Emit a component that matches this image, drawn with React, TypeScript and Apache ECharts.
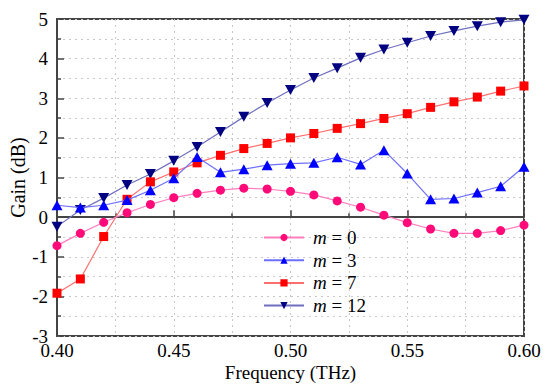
import React, { useEffect, useRef } from "react";
import * as echarts from "echarts";

const freqs = [0.40, 0.41, 0.42, 0.43, 0.44, 0.45, 0.46, 0.47, 0.48, 0.49, 0.50, 0.51, 0.52, 0.53, 0.54, 0.55, 0.56, 0.57, 0.58, 0.59, 0.60];
const m0 = [-0.72, -0.41, -0.13, 0.11, 0.32, 0.49, 0.60, 0.68, 0.73, 0.71, 0.65, 0.56, 0.41, 0.25, 0.05, -0.14, -0.30, -0.41, -0.41, -0.34, -0.20];
const m3 = [0.30, 0.24, 0.30, 0.43, 0.68, 0.98, 1.52, 1.13, 1.21, 1.31, 1.35, 1.37, 1.51, 1.33, 1.69, 1.10, 0.45, 0.47, 0.62, 0.78, 1.27];
const m7 = [-1.92, -1.56, -0.49, 0.45, 0.89, 1.14, 1.37, 1.56, 1.73, 1.86, 2.00, 2.11, 2.24, 2.36, 2.49, 2.61, 2.77, 2.91, 3.03, 3.18, 3.31];
const m12 = [-0.24, 0.18, 0.48, 0.81, 1.09, 1.42, 1.77, 2.15, 2.53, 2.88, 3.21, 3.51, 3.76, 4.02, 4.23, 4.40, 4.57, 4.70, 4.82, 4.92, 4.98];

const seriesNames = ["m = 0", "m = 3", "m = 7", "m = 12"];
const seriesData = [m0, m3, m7, m12];
const markerColors = ["#ff0a78", "#0000ff", "#ff0000", "#000080"];
const lineColors = ["#ff7fbf", "#6f6fff", "#ff6f6f", "#6f6fbf"];
const symbols = ["circle", "triangle", "rect", "path://M0,0 L10,0 L5,9 Z"];

const FONT = "Liberation Serif";

export default function App() {
  const ref = useRef<HTMLDivElement>(null);
  useEffect(() => {
    if (!ref.current) return;
    const chart = echarts.init(ref.current, null, { renderer: "svg" });
    const gridLine = { show: true, lineStyle: { color: "#c8c8c8", type: [2, 4], width: 1 } };
    chart.setOption({
      animation: false,
      backgroundColor: "#fff",
      textStyle: { fontFamily: FONT },
      grid: { left: 54, right: 26, top: 19, bottom: 55, show: true, borderColor: "#444", borderWidth: 2 },
      xAxis: {
        type: "value",
        min: 0.4,
        max: 0.6,
        interval: 0.05,
        name: "Frequency (THz)",
        nameLocation: "middle",
        nameGap: 28,
        nameMoveOverlap: false,
        nameTextStyle: { fontFamily: FONT, fontSize: 19, color: "#000", lineHeight: 16 },
        axisLine: { lineStyle: { color: "#444", width: 2 } },
        axisTick: { inside: true, length: 7, lineStyle: { color: "#444", width: 1.5 } },
        minorTick: { show: true, splitNumber: 2, length: 4, lineStyle: { color: "#444", width: 1.5 } },
        axisLabel: { formatter: (v: number) => v.toFixed(2), fontFamily: FONT, fontSize: 19, color: "#000", margin: 6, lineHeight: 16 },
        splitLine: gridLine,
        minorSplitLine: gridLine,
      },
      yAxis: {
        type: "value",
        min: -3,
        max: 5,
        interval: 1,
        name: "Gain (dB)",
        nameLocation: "middle",
        nameGap: 29,
        nameMoveOverlap: false,
        nameTextStyle: { fontFamily: FONT, fontSize: 20, color: "#000" },
        axisLine: { show: true, lineStyle: { color: "#444", width: 2 } },
        axisTick: { show: true, inside: true, length: 7, lineStyle: { color: "#444", width: 1.5 } },
        minorTick: { show: true, splitNumber: 2, length: 4, lineStyle: { color: "#444", width: 1.5 } },
        axisLabel: { fontFamily: FONT, fontSize: 19, color: "#000", margin: 9, lineHeight: 14 },
        splitLine: gridLine,
        minorSplitLine: gridLine,
      },
      legend: {
        orient: "vertical",
        left: 263,
        top: 228,
        padding: 0,
        itemWidth: 40,
        itemHeight: 9,
        itemGap: 3.7,
        data: seriesNames,
        formatter: (name: string) => `{i|m} = ${name.split(" = ")[1]}`,
        textStyle: {
          fontFamily: FONT,
          fontSize: 19,
          color: "#000",
          lineHeight: 19,
          padding: [0, 0, 0, 4],
          rich: { i: { fontStyle: "italic", fontFamily: FONT, fontSize: 19, color: "#000", lineHeight: 19 } },
        },
      },
      series: seriesNames.map((name, k) => ({
        name,
        type: "line",
        data: freqs.map((f, i) => [f, seriesData[k][i]]),
        symbol: symbols[k],
        symbolSize: k === 0 ? 9 : k === 2 ? 9 : [11, 10],
        itemStyle: { color: markerColors[k] },
        lineStyle: { color: lineColors[k], width: 1.2 },
        z: 5 - k,
      })),
    });
    return () => chart.dispose();
  }, []);
  return <div ref={ref} style={{ width: 550, height: 391, margin: -8 }} />;
}
